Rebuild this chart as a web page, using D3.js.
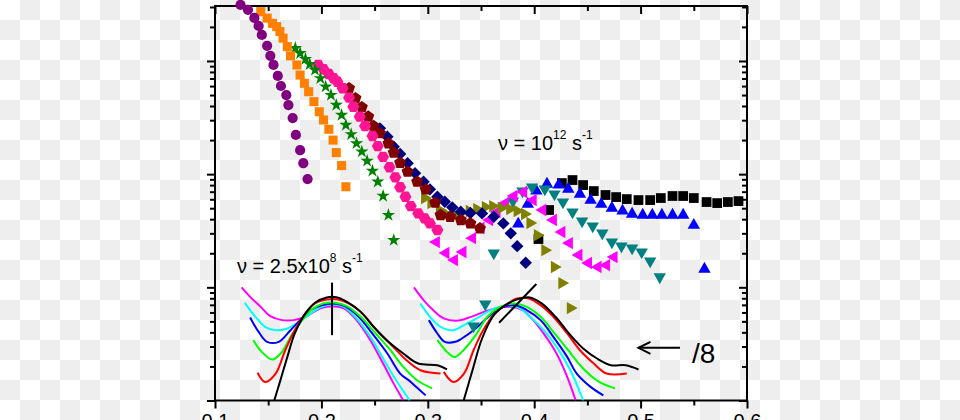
<!DOCTYPE html>
<html><head><meta charset="utf-8">
<script src="https://cdn.jsdelivr.net/npm/d3@7"></script>
<style>html,body{margin:0;padding:0;background:#fff;} svg{display:block;}</style>
</head><body>
<svg id="chart" width="960" height="420"></svg>
<script>
// ---------- axis ticks ----------
const xMajorTicks = [0.1, 0.2, 0.3, 0.4, 0.5, 0.6];
const xTickLabels = ["0.1", "0.2", "0.3", "0.4", "0.5", "0.6"];
const xMinorTicks = [0.15, 0.25, 0.35, 0.45, 0.55];
const yMajorTicks = [1, 10, 100, 1000];
const yMinorTicks = [2,3,4,5,6,7,8,9,20,30,40,50,60,70,80,90,200,300,400,500,600,700,800,900,2000,3000];

// ---------- scatter series ----------
const purpleX = [0.124,0.131,0.137,0.141,0.144,0.149,0.152,0.155,0.159,0.162,0.167,0.169,0.173,0.176,0.180,0.183,0.187];
const purpleY = [3130,2830,2400,2040,1700,1360,1110,922,737,601,500,408,313,222,163,125,90.5];
const orangeX = [0.143,0.149,0.154,0.158,0.161,0.164,0.168,0.171,0.177,0.180,0.184,0.188,0.193,0.198,0.202,0.207,0.211,0.214,0.219,0.223];
const orangeY = [2730,2390,2150,2010,1820,1590,1340,1110,922,752,635,535,437,356,301,249,200,155,119,77.4];
const greenX = [0.1755,0.180,0.185,0.189,0.194,0.199,0.204,0.209,0.214,0.219,0.223,0.228,0.233,0.238,0.243,0.248,0.253,0.258,0.263,0.268];
const greenY = [1300,1170,1040,935,833,703,593,500,408,333,272,225,187,158,131,107,85.7,64.1,43.5,26.1];
const pinkX = [0.197,0.202,0.207,0.2115,0.215,0.220,0.226,0.230,0.236,0.241,0.248,0.253,0.258,0.264,0.2695,0.274,0.279,0.284,0.291,0.297,0.302,0.309];
const pinkY = [922,844,768,703,656,574,474,394,322,266,217,177,142,115,93.7,76.5,63.1,52.2,45.0,40.7,36.7,32.1];
const maroonX = [0.226,0.232,0.238,0.244,0.249,0.255,0.263,0.268,0.274,0.281,0.290,0.298,0.307,0.312,0.321,0.331,0.340,0.349];
const maroonY = [574,468,390,322,266,230,187,155,126,105,85.7,73.4,55.9,43.5,42.0,39.3,36.7,33.2];
const navyX = [0.255,0.262,0.268,0.274,0.281,0.288,0.296,0.302,0.309,0.316,0.323,0.331,0.340,0.351,0.362,0.371,0.378,0.384,0.392];
const navyY = [254,214,175,151,125,102,85.7,73.4,63.1,57.0,50.9,46.5,45.3,45.0,42.0,36.7,30.0,23.1,16.5];
const oliveX = [0.298,0.304,0.312,0.318,0.326,0.332,0.340,0.347,0.355,0.362,0.370,0.378,0.385,0.392,0.397,0.404,0.411,0.420,0.427,0.435];
const oliveY = [61.5,55.5,48.2,44.4,43.5,45.3,47.2,49.1,51.2,52.2,50.2,49.1,47.2,44.4,37.0,28.9,21.3,15.1,10.9,6.55];
const magentaX = [0.307,0.316,0.324,0.332,0.341,0.349,0.357,0.364,0.372,0.380,0.389,0.398,0.407,0.417,0.425,0.432,0.441,0.450,0.459,0.467,0.474];
const magentaY = [25.1,20.1,17.4,20.5,27.2,33.4,39.3,46.2,55.5,64.1,69.5,59.0,48.2,39.3,30.8,24.6,19.3,16.4,15.1,15.7,18.5];
const tealX = [0.343,0.354,0.362,0.380,0.389,0.398,0.410,0.419,0.427,0.436,0.445,0.455,0.464,0.473,0.482,0.492,0.501,0.509,0.518];
const tealY = [4.45,6.96,19.7,56.7,69.5,75.4,72.4,65.4,55.5,45.3,37.7,34.1,29.5,24.6,22.7,21.8,20.1,16.7,12.1];
const blueX = [0.385,0.394,0.402,0.412,0.423,0.432,0.443,0.453,0.463,0.473,0.483,0.492,0.502,0.511,0.520,0.530,0.540,0.550,0.560];
const blueY = [37.0,55.5,72.4,83.4,81.8,75.4,68.1,60.2,55.5,51.2,48.2,45.3,44.4,44.4,44.4,44.4,44.4,36.2,14.8];
const blackX = [0.404,0.414,0.426,0.436,0.446,0.456,0.467,0.477,0.487,0.498,0.509,0.519,0.530,0.540,0.550,0.562,0.572,0.582,0.592];
const blackY = [26.7,48.2,83.4,88.7,80.1,70.9,65.4,62.7,60.2,59.0,59.0,61.5,64.1,64.1,61.5,56.7,55.5,56.7,57.8];

// ---------- spectra, group 1 (nu = 2.5x10^8 s^-1) ----------
const g1MagentaX = [0.125,0.133,0.143,0.152,0.163,0.174,0.186,0.199,0.210,0.221,0.233,0.246,0.258,0.268,0.277];
const g1MagentaY = [9.98,8.24,6.72,5.56,5.13,5.13,5.56,6.51,6.82,6.51,5.13,3.41,2.12,1.41,1.0];
const g1CyanX = [0.128,0.138,0.147,0.157,0.168,0.179,0.188,0.199,0.210,0.221,0.233,0.246,0.258,0.269,0.283];
const g1CyanY = [7.30,5.49,4.48,4.18,4.33,4.95,5.68,6.64,7.06,6.72,5.31,3.65,2.35,1.57,1.0];
const g1BlueX = [0.133,0.141,0.149,0.160,0.171,0.180,0.190,0.201,0.211,0.222,0.235,0.249,0.262,0.274,0.284,0.298];
const g1BlueY = [5.42,4.04,3.30,3.30,4.18,5.13,6.29,6.96,7.21,6.82,5.49,3.78,2.60,1.73,1.46,1.11];
const g1GreenX = [0.136,0.144,0.154,0.163,0.172,0.182,0.191,0.202,0.213,0.224,0.237,0.251,0.265,0.277,0.290,0.304];
const g1GreenY = [3.41,2.69,2.30,2.69,3.78,5.13,6.38,7.21,7.30,6.82,5.49,3.91,2.78,1.98,1.51,1.28];
const g1RedX = [0.140,0.147,0.157,0.166,0.175,0.185,0.194,0.205,0.216,0.227,0.240,0.252,0.266,0.280,0.293,0.312];
const g1RedY = [1.76,1.46,1.73,2.78,4.18,5.88,7.21,7.82,7.82,7.10,5.68,4.18,3.08,2.27,1.85,1.73];
const g1BlackX = [0.155,0.161,0.168,0.175,0.185,0.194,0.205,0.215,0.224,0.237,0.249,0.263,0.277,0.291,0.309,0.318];
const g1BlackY = [0.95,1.46,2.43,3.91,5.88,7.30,8.14,8.14,7.44,6.07,4.48,3.30,2.60,2.12,2.05,1.88];

// ---------- spectra, group 2 (nu = 10^12 s^-1, divided by 8) ----------
const g2MagentaX = [0.287,0.296,0.305,0.315,0.327,0.340,0.352,0.365,0.378,0.389,0.399,0.410,0.421,0.431,0.439];
const g2MagentaY = [9.98,7.71,6.29,5.31,5.06,5.45,6.04,6.55,6.72,6.29,5.13,3.78,2.60,1.62,1.0];
const g2CyanX = [0.293,0.302,0.312,0.324,0.334,0.346,0.359,0.371,0.384,0.396,0.409,0.421,0.434,0.446];
const g2CyanY = [7.21,5.49,4.48,4.18,4.63,5.31,6.29,6.82,6.72,5.49,4.18,2.98,1.85,1.0];
const g2BlueX = [0.301,0.309,0.316,0.326,0.332,0.345,0.357,0.368,0.382,0.393,0.406,0.418,0.431,0.440,0.453,0.465];
const g2BlueY = [5.13,3.91,3.30,3.30,3.53,4.33,5.49,6.51,6.96,6.29,5.13,3.65,2.43,1.73,1.32,1.11];
const g2GreenX = [0.309,0.318,0.325,0.332,0.345,0.356,0.368,0.381,0.393,0.406,0.418,0.432,0.446,0.461,0.476];
const g2GreenY = [3.41,2.69,2.42,2.69,3.78,5.49,6.72,7.21,6.72,5.49,4.04,2.78,1.92,1.46,1.28];
const g2RedX = [0.315,0.324,0.334,0.343,0.352,0.363,0.373,0.384,0.395,0.406,0.418,0.431,0.443,0.456,0.468,0.487];
const g2RedY = [1.79,1.46,1.73,2.78,4.18,5.88,6.96,7.98,7.98,6.96,5.49,3.91,2.78,2.12,1.73,1.73];
const g2BlackX = [0.333,0.342,0.351,0.362,0.373,0.384,0.396,0.407,0.420,0.434,0.446,0.459,0.472,0.486,0.498];
const g2BlackY = [0.95,1.85,3.53,5.68,6.96,7.82,8.14,7.21,5.49,3.78,2.88,2.35,2.05,2.05,1.88];

// ---------- annotation marks ----------
const peakMark1X = [0.210, 0.210];
const peakMark1Y = [11.0, 3.78];
const peakMark2X = [0.367, 0.402];
const peakMark2Y = [4.86, 10.7];
const arrowX = [0.537, 0.498];
const arrowY = [2.92, 2.92];

// ---------- drawing ----------
const FONT = "'Liberation Sans', Arial, Helvetica, sans-serif";
const svg = d3.select("#chart");
const x = d3.scaleLinear().domain([0.1, 0.6]).range([215, 747]);
const y = d3.scaleLog().domain([1, 3060]).range([400.5, 6]);
const [x0, x1] = x.range();
const [yb, yt] = y.range();

// checkerboard background
const defs = svg.append("defs");
const pat = defs.append("pattern").attr("id", "cb").attr("patternUnits", "userSpaceOnUse")
  .attr("width", 40).attr("height", 40);
pat.append("rect").attr("width", 40).attr("height", 40).attr("fill", "#ffffff");
pat.append("rect").attr("x", 20).attr("y", 0).attr("width", 20).attr("height", 20).attr("fill", "#eeeeee");
pat.append("rect").attr("x", 0).attr("y", 20).attr("width", 20).attr("height", 20).attr("fill", "#eeeeee");
svg.append("rect").attr("width", 960).attr("height", 420).attr("fill", "url(#cb)");

defs.append("clipPath").attr("id", "plotclip").append("rect")
  .attr("x", x0).attr("y", yt).attr("width", x1 - x0).attr("height", yb - yt);

// axes
function styleAxis(g) {
  g.select(".domain").remove();
  g.selectAll(".tick line").attr("stroke", "#000").attr("stroke-width", 2);
  g.selectAll(".tick text").attr("font-family", FONT).attr("font-size", 20).attr("fill", "#000");
}
svg.append("g").attr("transform", `translate(0,${yb})`)
  .call(d3.axisBottom(x).tickValues(xMajorTicks).tickSize(8).tickPadding(5)
    .tickFormat((d, i) => xTickLabels[i])).call(styleAxis);
svg.append("g").attr("transform", `translate(0,${yb})`)
  .call(d3.axisBottom(x).tickValues(xMinorTicks).tickSize(5).tickFormat("")).call(styleAxis);
svg.append("g").attr("transform", `translate(0,${yt})`)
  .call(d3.axisBottom(x).tickValues(xMajorTicks).tickSize(8).tickFormat("")).call(styleAxis);
svg.append("g").attr("transform", `translate(0,${yt})`)
  .call(d3.axisBottom(x).tickValues(xMinorTicks).tickSize(5).tickFormat("")).call(styleAxis);
svg.append("g").attr("transform", `translate(${x0},0)`)
  .call(d3.axisLeft(y).tickValues(yMajorTicks).tickSize(8).tickFormat("")).call(styleAxis);
svg.append("g").attr("transform", `translate(${x0},0)`)
  .call(d3.axisLeft(y).tickValues(yMinorTicks).tickSize(5).tickFormat("")).call(styleAxis);
svg.append("g").attr("transform", `translate(${x1},0)`)
  .call(d3.axisLeft(y).tickValues(yMajorTicks).tickSize(8).tickFormat("")).call(styleAxis);
svg.append("g").attr("transform", `translate(${x1},0)`)
  .call(d3.axisLeft(y).tickValues(yMinorTicks).tickSize(5).tickFormat("")).call(styleAxis);

svg.append("rect").attr("x", x0).attr("y", yt).attr("width", x1 - x0).attr("height", yb - yt)
  .attr("fill", "none").attr("stroke", "#000").attr("stroke-width", 2);

// spectra lines
const zip = (xs, ys) => xs.map((v, i) => [v, ys[i]]);
const line = d3.line().x(d => x(d[0])).y(d => y(d[1])).curve(d3.curveCatmullRom.alpha(0.5));
const curves = [
  [g1MagentaX, g1MagentaY, "#ff00ff"], [g1CyanX, g1CyanY, "#00ffff"], [g1BlueX, g1BlueY, "#0000ff"],
  [g1GreenX, g1GreenY, "#00ff00"], [g1RedX, g1RedY, "#ff0000"], [g1BlackX, g1BlackY, "#000000"],
  [g2MagentaX, g2MagentaY, "#ff00ff"], [g2CyanX, g2CyanY, "#00ffff"], [g2BlueX, g2BlueY, "#0000ff"],
  [g2GreenX, g2GreenY, "#00ff00"], [g2RedX, g2RedY, "#ff0000"], [g2BlackX, g2BlackY, "#000000"]
];
const lg = svg.append("g").attr("clip-path", "url(#plotclip)");
curves.forEach(([xs, ys, c]) => {
  lg.append("path").datum(zip(xs, ys)).attr("d", line)
    .attr("fill", "none").attr("stroke", c).attr("stroke-width", 2).attr("stroke-linejoin", "round");
});

// marker shapes
const poly = pts => ({ draw(ctx, size) {
  const s = Math.sqrt(size) / 10;
  ctx.moveTo(pts[0][0] * s, pts[0][1] * s);
  for (let i = 1; i < pts.length; i++) ctx.lineTo(pts[i][0] * s, pts[i][1] * s);
  ctx.closePath();
}});
const regular = (n, r, a0) => d3.range(n).map(k => {
  const a = a0 + k * 2 * Math.PI / n; return [r * Math.cos(a), r * Math.sin(a)];
});
const triUp = poly([[0, -6.2], [6.2, 4.6], [-6.2, 4.6]]);
const triDown = poly([[-6.2, -4.6], [6.2, -4.6], [0, 6.2]]);
const triLeft = poly([[-6.2, 0], [4.6, -6.2], [4.6, 6.2]]);
const triRight = poly([[6.2, 0], [-4.6, -6.2], [-4.6, 6.2]]);
const hexagon = poly(regular(6, 6, 0));
const pentagon = poly(regular(5, 6.3, -Math.PI / 2));
const diamond = poly([[0, -6.2], [6.2, 0], [0, 6.2], [-6.2, 0]]);

const series = [
  [blackX, blackY, "#000000", d3.symbolSquare, 95],
  [blueX, blueY, "#0000ff", triUp, 100],
  [tealX, tealY, "#008080", triDown, 100],
  [magentaX, magentaY, "#ff00ff", triLeft, 100],
  [oliveX, oliveY, "#808000", triRight, 100],
  [navyX, navyY, "#000080", diamond, 100],
  [maroonX, maroonY, "#800000", pentagon, 100],
  [pinkX, pinkY, "#ff1493", hexagon, 100],
  [greenX, greenY, "#008000", d3.symbolStar, 55],
  [orangeX, orangeY, "#ff8000", d3.symbolSquare, 82],
  [purpleX, purpleY, "#800080", d3.symbolCircle, 82]
];
series.forEach(([xs, ys, c, type, size]) => {
  svg.append("g").selectAll("path").data(zip(xs, ys)).join("path")
    .attr("transform", d => `translate(${x(d[0])},${y(d[1])})`)
    .attr("d", d3.symbol().type(type).size(size)).attr("fill", c);
});

// peak markers
const straight = d3.line().x(d => x(d[0])).y(d => y(d[1]));
svg.append("path").datum(zip(peakMark1X, peakMark1Y)).attr("d", straight)
  .attr("stroke", "#000").attr("stroke-width", 2).attr("fill", "none");
svg.append("path").datum(zip(peakMark2X, peakMark2Y)).attr("d", straight)
  .attr("stroke", "#000").attr("stroke-width", 2).attr("fill", "none");

// arrow and "/8"
const tipX = x(arrowX[1]), tipY = y(arrowY[1]);
svg.append("path").datum(zip(arrowX, arrowY)).attr("d", straight)
  .attr("stroke", "#000").attr("stroke-width", 2).attr("fill", "none");
svg.append("path")
  .attr("d", `M${tipX + 12},${tipY - 6}L${tipX},${tipY}L${tipX + 12},${tipY + 6}`)
  .attr("stroke", "#000").attr("stroke-width", 2).attr("fill", "none");
svg.append("text").attr("x", 692).attr("y", 363).attr("font-family", FONT)
  .attr("font-size", 28).attr("fill", "#000").text("/8");

// labels
function label(px, py, parts) {
  const t = svg.append("text").attr("x", px).attr("y", py).attr("font-family", FONT)
    .attr("font-size", 20).attr("fill", "#000");
  parts.forEach(([s, sup]) => {
    const ts = t.append("tspan").text(s);
    if (sup) ts.attr("font-size", 12).attr("baseline-shift", "11");
  });
}
label(498, 150, [["ν = 10", false], ["12", true], [" s", false], ["-1", true]]);
label(237, 273, [["ν = 2.5x10", false], ["8", true], [" s", false], ["-1", true]]);
</script>
</body></html>
